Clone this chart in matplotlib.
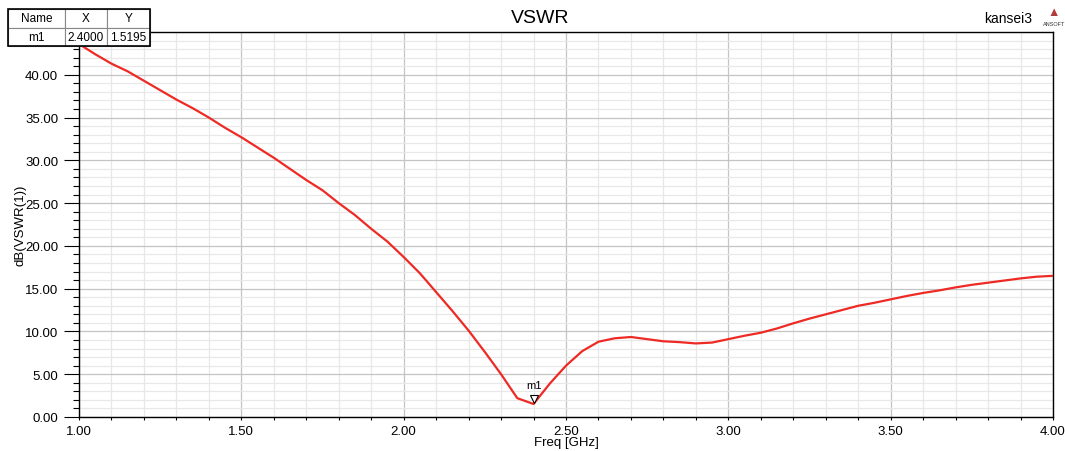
import matplotlib
matplotlib.use('Agg')
import matplotlib.pyplot as plt
import numpy as np
from matplotlib.ticker import MultipleLocator, FormatStrFormatter

plt.rcParams['font.family'] = ['Liberation Sans', 'DejaVu Sans']

# data
freq = [1.00, 1.05, 1.10, 1.15, 1.20, 1.25, 1.30, 1.35, 1.40, 1.45,
        1.50, 1.55, 1.60, 1.65, 1.70, 1.75, 1.80, 1.85, 1.90, 1.95,
        2.00, 2.05, 2.10, 2.15, 2.20, 2.25, 2.30, 2.35, 2.40, 2.45,
        2.50, 2.55, 2.60, 2.65, 2.70, 2.75, 2.80, 2.85, 2.90, 2.95,
        3.00, 3.05, 3.10, 3.15, 3.20, 3.25, 3.30, 3.35, 3.40, 3.45,
        3.50, 3.55, 3.60, 3.65, 3.70, 3.75, 3.80, 3.85, 3.90, 3.95, 4.00]
vswr_db = [43.6, 42.4, 41.3, 40.4, 39.3, 38.2, 37.1, 36.1, 35.0, 33.8,
           32.7, 31.5, 30.3, 29.0, 27.7, 26.5, 25.0, 23.6, 22.0, 20.5,
           18.7, 16.8, 14.6, 12.4, 10.1, 7.6, 5.0, 2.2, 1.5195, 3.9,
           6.0, 7.7, 8.8, 9.2, 9.35, 9.1, 8.85, 8.75, 8.6, 8.7,
           9.1, 9.5, 9.85, 10.35, 10.95, 11.5, 12.0, 12.5, 13.0, 13.35,
           13.75, 14.15, 14.5, 14.8, 15.15, 15.45, 15.7, 15.95, 16.2, 16.4, 16.5]
marker_name = 'm1'
marker_x = 2.4000
marker_y = 1.5195

fig = plt.figure(figsize=(10.65, 4.52), dpi=100)
ax = fig.add_axes([79/1065, 1-418/452, (1053-79)/1065, (418-33)/452])

ax.plot(freq, vswr_db, color='#ee2a24', lw=1.6, zorder=3)
ax.plot([marker_x], [marker_y + 0.55], marker='v', ms=6, mfc='white',
        mec='black', mew=0.8, ls='none', zorder=4)
ax.text(marker_x, marker_y + 1.6, marker_name, fontsize=8, ha='center', va='bottom')

ax.set_xlim(1.0, 4.0)
ax.set_ylim(0, 45)
ax.set_yticks(np.arange(0, 41, 5))
ax.xaxis.set_major_locator(MultipleLocator(0.5))
ax.xaxis.set_minor_locator(MultipleLocator(0.1))
ax.yaxis.set_minor_locator(MultipleLocator(1))
ax.xaxis.set_major_formatter(FormatStrFormatter('%.2f'))
ax.yaxis.set_major_formatter(FormatStrFormatter('%.2f'))
ax.tick_params(which='both', direction='out', labelsize=9.5, width=0.8)
ax.tick_params(axis='x', which='both', length=2.5, pad=3)
ax.tick_params(axis='y', which='major', length=11, pad=4)
ax.tick_params(axis='y', which='minor', length=4.5)
ax.grid(which='major', color='#c4c4c4', lw=0.9)
ax.grid(which='minor', color='#e8e8e8', lw=0.9)
ax.set_axisbelow(True)
for s in ax.spines.values():
    s.set_linewidth(1.0)

ax.set_xlabel('Freq [GHz]', fontsize=9.5, va='center')
ax.xaxis.set_label_coords(0.5, (418-443)/385)
ax.set_ylabel('dB(VSWR(1))', fontsize=9.5, va='center')
ax.yaxis.set_label_coords((21-79)/974, 0.5)

fig.text(0.507, 0.96, 'VSWR', fontsize=14, ha='center', va='center')
fig.text(1032/1065, 0.957, 'kansei3', fontsize=10, ha='right', va='center')
fig.text(1054/1065, 0.945, 'ANSOFT', fontsize=4, ha='center', va='center', color='#333333')
fig.text(1054/1065, 0.972, '\u25B2', fontsize=9, ha='center', va='center', color='#b33a3a')

# marker table
tax = fig.add_axes([8/1065, 1-47/452, 142/1065, 37/452])
tax.axis('off')
tbl = tax.table(cellText=[[marker_name, '%.4f' % marker_x, '%.4f' % marker_y]],
                colLabels=['Name', 'X', 'Y'], cellLoc='center',
                bbox=[0, 0, 1, 1], colWidths=[57, 42, 43])
tbl.auto_set_font_size(False)
for (r, c), cell in tbl.get_celld().items():
    cell.set_fontsize(8.5)
    cell.set_edgecolor('#888888')
    cell.set_linewidth(0.8)
tax.add_patch(plt.Rectangle((0, 0), 1, 1, fill=False, ec='black', lw=1.2,
                            transform=tax.transAxes, clip_on=False))

fig.savefig('out.png', dpi=100)
